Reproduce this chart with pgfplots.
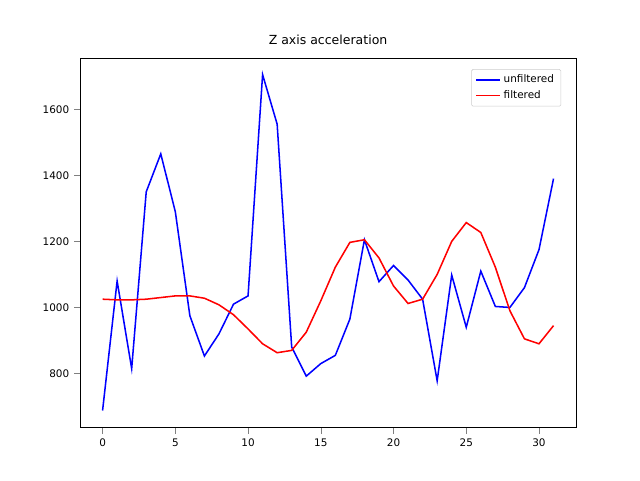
\documentclass[border=0pt]{standalone}
\usepackage{fontspec}
\setmainfont{DejaVu Sans}
\usepackage{pgfplots}
\pgfplotsset{compat=1.18}
\begin{document}
\begin{tikzpicture}
\begin{axis}[
  scale only axis, width=357pt, height=266pt,
  xmin=-1.55, xmax=32.55, ymin=636, ymax=1755,
  xtick={0,5,...,30}, ytick={800,1000,...,1600},
  font=\fontsize{7.5}{9}\selectfont,
  /pgf/number format/assume math mode=true,
  /pgf/number format/set thousands separator={},
  tick align=outside, tick pos=left,
  title={\fontsize{9}{11}\selectfont Z axis acceleration},
  legend pos=north east, legend cell align=left,
  legend style={draw=black!20, rounded corners=1pt, font=\fontsize{7.5}{9}\selectfont},
  clip=false,
]
\addlegendimage{color=blue, line width=1.1pt}
\addlegendimage{color=red, line width=1.1pt}
\addplot[color=blue, line width=1.1pt, forget plot] coordinates {(0,688)(1,1080)(2,815)(3,1350)(4,1465)(5,1290)(6,975)(7,853)(8,920)(9,1010)(10,1035)(11,1705)(12,1555)(13,880)(14,792)(15,830)(16,855)(17,965)(18,1205)(19,1078)(20,1127)(21,1083)(22,1025)(23,778)(24,1098)(25,940)(26,1110)(27,1003)(28,1000)(29,1060)(30,1175)(31,1390)};
\addplot[color=red, line width=1.1pt, forget plot] coordinates {(0,1025)(1,1023)(2,1023)(3,1025)(4,1030)(5,1035)(6,1035)(7,1028)(8,1008)(9,978)(10,935)(11,890)(12,863)(13,870)(14,925)(15,1020)(16,1122)(17,1197)(18,1205)(19,1150)(20,1065)(21,1012)(22,1025)(23,1100)(24,1200)(25,1257)(26,1227)(27,1122)(28,990)(29,905)(30,890)(31,945)};
\legend{unfiltered,filtered}
\path ([shift={(-57.6pt,-38.2pt)}]rel axis cs:0,0) rectangle ([shift={(46pt,41.8pt)}]rel axis cs:1,1);
\end{axis}
\end{tikzpicture}
\end{document}
